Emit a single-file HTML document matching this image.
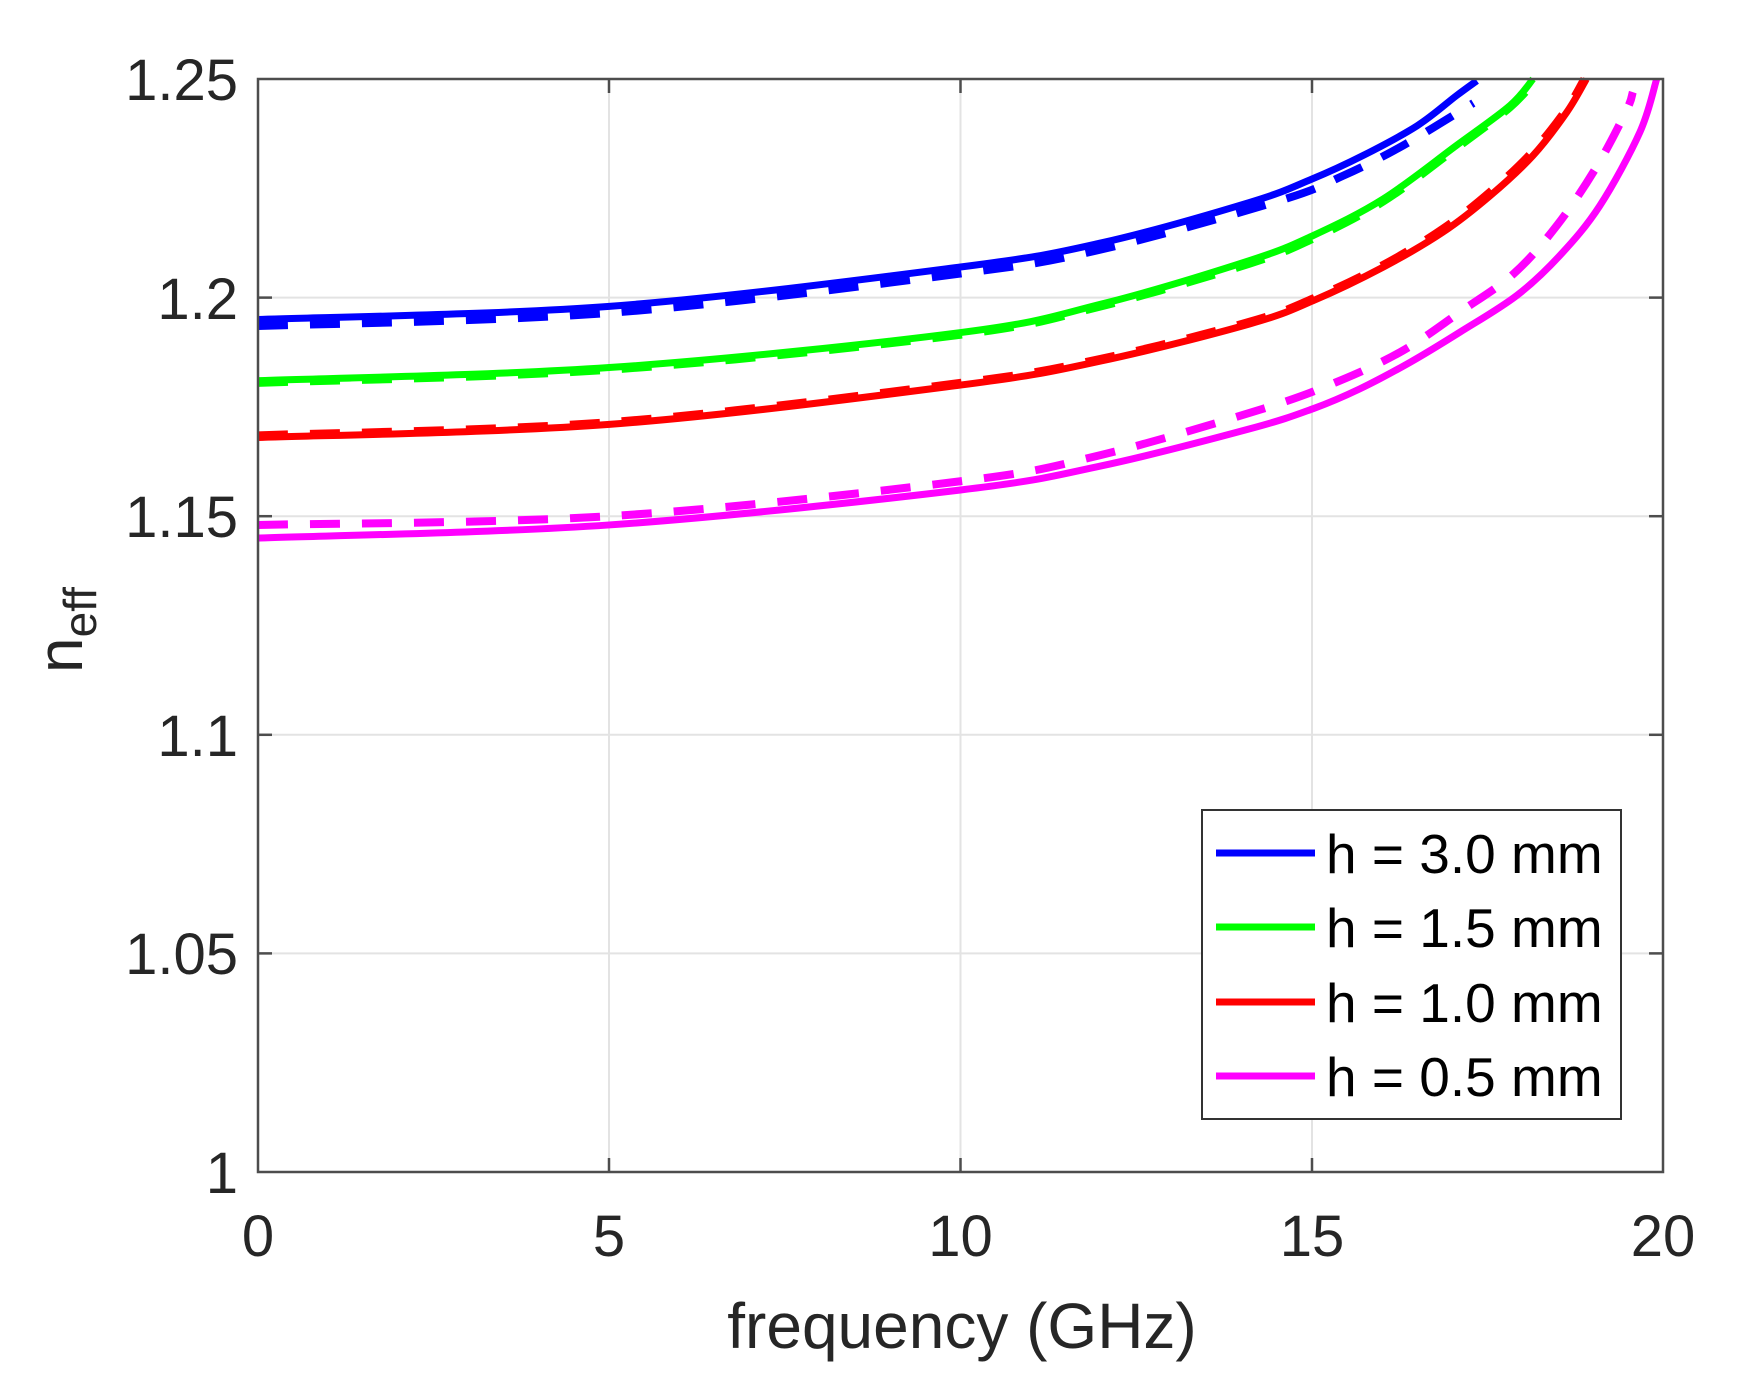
<!DOCTYPE html>
<html><head><meta charset="utf-8"><style>
body{margin:0;background:#fff}
svg text{font-family:"Liberation Sans",sans-serif;fill:#262626}
</style></head><body>
<svg id="s" width="1738" height="1394" xmlns="http://www.w3.org/2000/svg">
<rect width="1738" height="1394" fill="#fff"/>
<g stroke="#e3e3e3" stroke-width="2">
<line x1="609" y1="79" x2="609" y2="1172"/><line x1="960.5" y1="79" x2="960.5" y2="1172"/><line x1="1312" y1="79" x2="1312" y2="1172"/>
<line x1="258" y1="297.6" x2="1663" y2="297.6"/><line x1="258" y1="516.2" x2="1663" y2="516.2"/><line x1="258" y1="734.8" x2="1663" y2="734.8"/><line x1="258" y1="953.4" x2="1663" y2="953.4"/>
</g>
<g id="curves" fill="none" stroke-linejoin="round"></g>
<rect x="258" y="79" width="1405" height="1093" fill="none" stroke="#4d4d4d" stroke-width="2.5"/>
<g stroke="#4d4d4d" stroke-width="2.5">
<line x1="609" y1="1172" x2="609" y2="1158"/><line x1="960.5" y1="1172" x2="960.5" y2="1158"/><line x1="1312" y1="1172" x2="1312" y2="1158"/>
<line x1="609" y1="79" x2="609" y2="93"/><line x1="960.5" y1="79" x2="960.5" y2="93"/><line x1="1312" y1="79" x2="1312" y2="93"/>
<line x1="258" y1="297.6" x2="272" y2="297.6"/><line x1="258" y1="516.2" x2="272" y2="516.2"/><line x1="258" y1="734.8" x2="272" y2="734.8"/><line x1="258" y1="953.4" x2="272" y2="953.4"/>
<line x1="1663" y1="297.6" x2="1649" y2="297.6"/><line x1="1663" y1="516.2" x2="1649" y2="516.2"/><line x1="1663" y1="734.8" x2="1649" y2="734.8"/><line x1="1663" y1="953.4" x2="1649" y2="953.4"/>
</g>
<g font-size="58" text-anchor="end">
<text x="238" y="100">1.25</text><text x="238" y="319">1.2</text><text x="238" y="537">1.15</text><text x="238" y="756">1.1</text><text x="238" y="974">1.05</text><text x="238" y="1193">1</text>
</g>
<g font-size="58" text-anchor="middle">
<text x="258" y="1256">0</text><text x="609" y="1256">5</text><text x="960.5" y="1256">10</text><text x="1312" y="1256">15</text><text x="1663" y="1256">20</text>
</g>
<text x="962" y="1348" font-size="64" text-anchor="middle">frequency (GHz)</text>
<text transform="translate(82,630) rotate(-90)" font-size="64" text-anchor="middle">n<tspan font-size="46" dy="14">eff</tspan></text>
<rect x="1202" y="810" width="419" height="309" fill="#fff" stroke="#333" stroke-width="2"/>
<g stroke-width="7">
<line x1="1216" y1="853" x2="1315" y2="853" stroke="#0000ff"/>
<line x1="1216" y1="927" x2="1315" y2="927" stroke="#00ff00"/>
<line x1="1216" y1="1002" x2="1315" y2="1002" stroke="#ff0000"/>
<line x1="1216" y1="1076" x2="1315" y2="1076" stroke="#ff00ff"/>
</g>
<g font-size="55">
<text x="1326" y="873" style="fill:#000">h = 3.0 mm</text>
<text x="1326" y="947" style="fill:#000">h = 1.5 mm</text>
<text x="1326" y="1022" style="fill:#000">h = 1.0 mm</text>
<text x="1326" y="1096" style="fill:#000">h = 0.5 mm</text>
</g>
</svg>
<script>
const X=f=>258+f*70.25, Y=n=>1172-(n-1)*4372;
const S=[
 ["#0000ff",[[0,1.195],[5,1.198],[10,1.207],[12,1.2125],[14.12,1.2218],[15,1.2271],[15.73,1.2325],[16.5,1.2393],[17.06,1.2462],[17.35,1.2496]],0],
 ["#0000ff",[[0,1.1935],[5,1.1965],[10,1.2055],[12,1.211],[14.55,1.2222],[15.45,1.2279],[16.3,1.2348],[17.3,1.2445]],1],
 ["#00ff00",[[0,1.181],[5,1.184],[10,1.192],[12,1.1985],[14.12,1.2085],[15.02,1.2142],[16.02,1.2226],[17.06,1.2348],[17.82,1.2439],[18.15,1.25]],0],
 ["#00ff00",[[0,1.1805],[5,1.1835],[10,1.1915],[12,1.198],[14.12,1.2078],[15.02,1.2135],[16.02,1.222],[17.06,1.2342],[17.82,1.2435],[18.2,1.25]],1],
 ["#ff0000",[[0,1.168],[5,1.171],[10,1.180],[12,1.1855],[14.12,1.194],[15.02,1.1993],[16.02,1.207],[16.87,1.215],[17.54,1.2233],[18.15,1.2325],[18.63,1.2424],[18.91,1.25]],0],
 ["#ff0000",[[0,1.1685],[5,1.1715],[10,1.1805],[12,1.186],[14.12,1.1945],[15.02,1.1998],[16.02,1.2075],[16.87,1.2158],[17.54,1.2242],[18.15,1.2335],[18.63,1.2432],[18.88,1.25]],1],
 ["#ff00ff",[[0,1.145],[5,1.148],[10,1.156],[12,1.1615],[14.12,1.170],[15.02,1.1746],[15.68,1.1791],[16.4,1.1852],[17.11,1.1921],[17.92,1.2005],[18.53,1.2096],[19.1,1.221],[19.67,1.2378],[19.91,1.25]],0],
 ["#ff00ff",[[0,1.148],[5,1.150],[10,1.158],[12,1.164],[14.31,1.1746],[15.4,1.181],[16.3,1.1879],[17.11,1.1967],[17.87,1.2054],[18.49,1.2165],[19.05,1.2298],[19.48,1.2428],[19.57,1.247]],1]
];
const g=document.getElementById('curves');
for(const [c,p,d] of S){
 let pts=p.map(q=>[X(q[0]),Y(q[1])]);
 let s="M"+pts[0][0]+","+pts[0][1];
 for(let i=0;i<pts.length-1;i++){
  const p0=pts[Math.max(0,i-1)],p1=pts[i],p2=pts[i+1],p3=pts[Math.min(pts.length-1,i+2)];
  s+=" C"+(p1[0]+(p2[0]-p0[0])/6)+","+(p1[1]+(p2[1]-p0[1])/6)+" "+(p2[0]-(p3[0]-p1[0])/6)+","+(p2[1]-(p3[1]-p1[1])/6)+" "+p2[0]+","+p2[1];
 }
 const e=document.createElementNS("http://www.w3.org/2000/svg","path");
 e.setAttribute("d",s);e.setAttribute("stroke",c);
 e.setAttribute("stroke-width",d?"8":"7");
 if(d)e.setAttribute("stroke-dasharray","30 22");
 g.appendChild(e);
}
</script>
</body></html>
